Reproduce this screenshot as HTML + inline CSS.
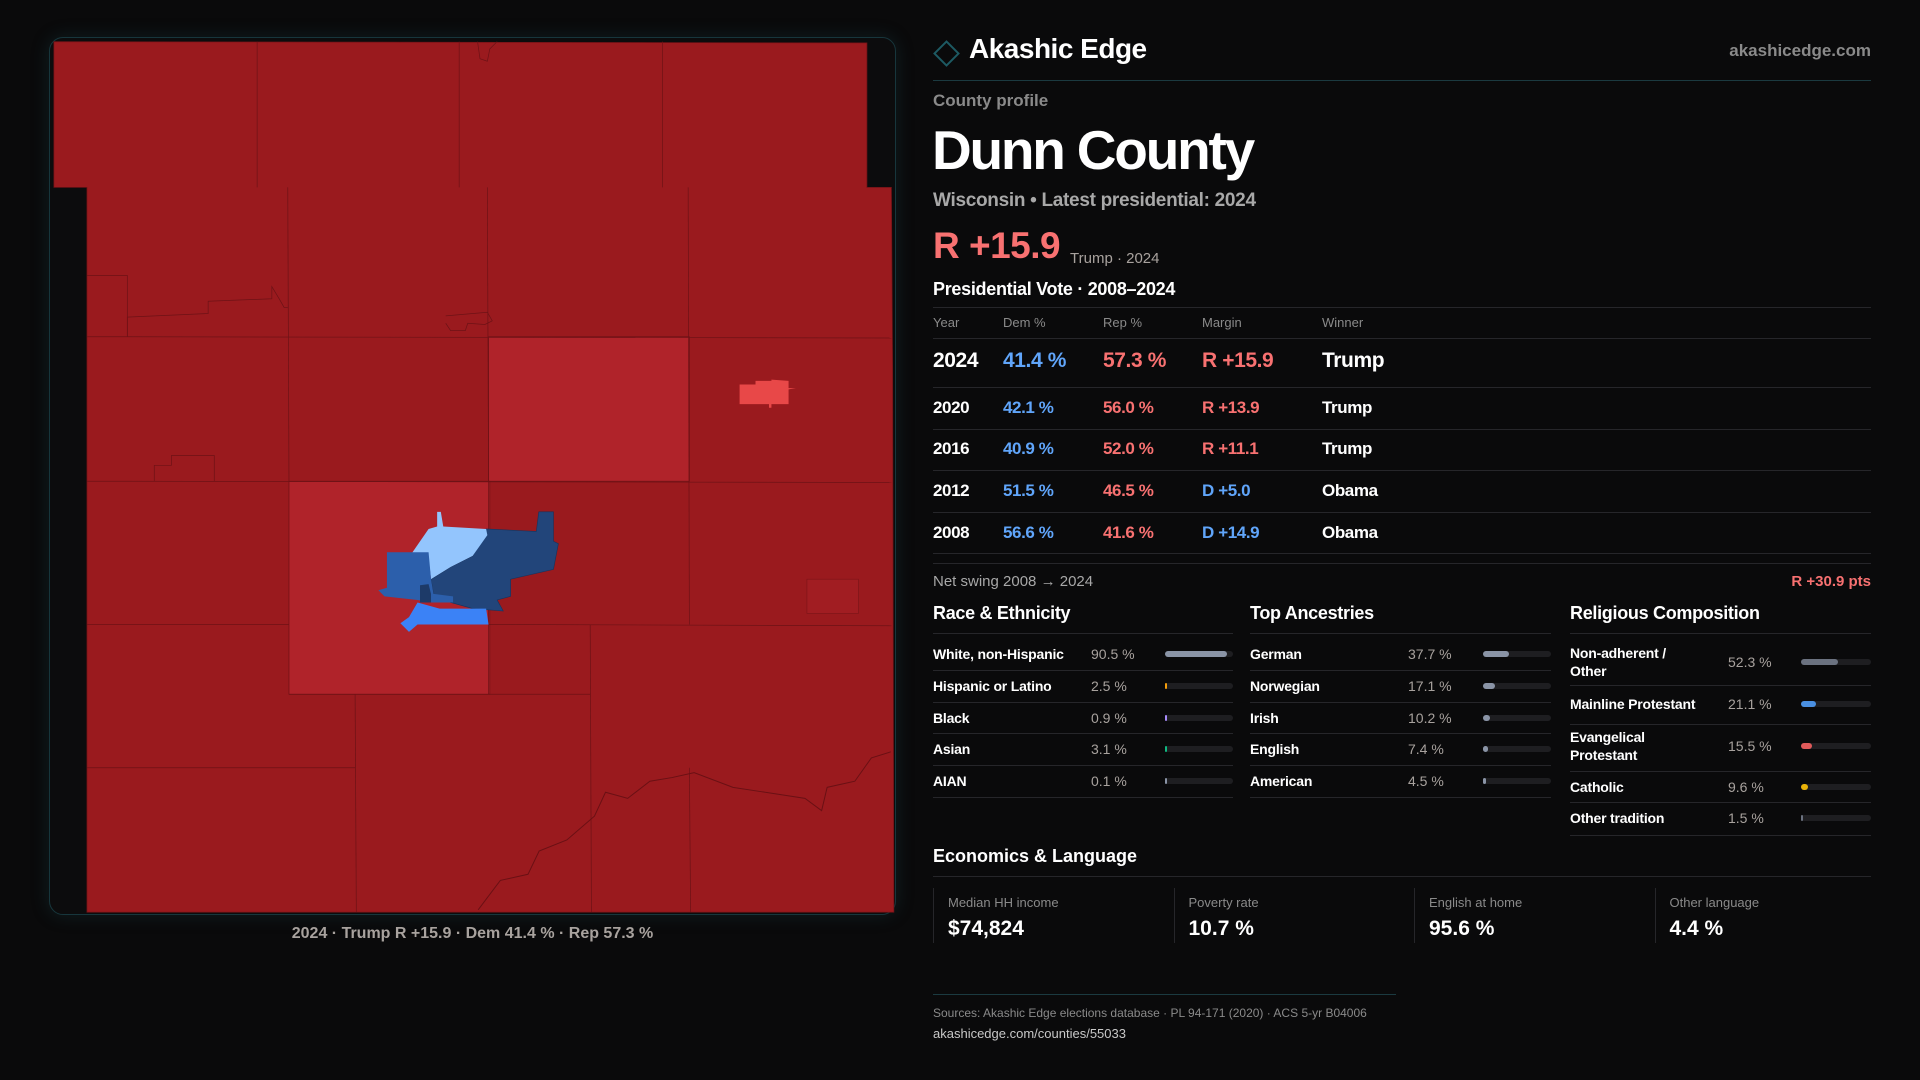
<!DOCTYPE html>
<html><head><meta charset="utf-8">
<style>
*{margin:0;padding:0;box-sizing:border-box}
body{width:1920px;height:1080px;background:#0a0a0b;font-family:"Liberation Sans",sans-serif;color:#fff;position:relative;overflow:hidden}
.a{position:absolute;white-space:nowrap}
.line{position:absolute;height:1px;background:#26262a}
</style></head><body>

<div class="a" style="left:49px;top:37px;width:847px;height:878px;border:1px solid #17363c;border-radius:14px;background:#0c0c0d;box-shadow:0 0 18px rgba(30,90,100,0.25)"></div>
<svg class="a" style="left:0;top:0" width="1920" height="1080" viewBox="0 0 1568 882">
 <g stroke="#6e1216" stroke-width="0.6">
  <polygon fill="#9a1a1e" points="44,34 708,35 708,153 728,153 729,300 730,745 71,745 71,153 44,153"/>
  <rect x="399" y="275" width="164" height="118" fill="#b0232a"/>
  <rect x="236" y="393" width="164" height="174" fill="#b0232a"/>
  <polyline fill="none" points="210,34 210,153"/><polyline fill="none" points="375,34 375,153"/><polyline fill="none" points="541,34 541,153"/>
  <polyline fill="none" points="235,153 236,393"/><polyline fill="none" points="398,153 399,393"/><polyline fill="none" points="562,153 563,510"/>
  <polyline fill="none" points="71,275 728,276"/><polyline fill="none" points="71,393 728,394"/><polyline fill="none" points="71,510 236,510"/>
  <polyline fill="none" points="399,393 399,567"/><polyline fill="none" points="399,510 728,511"/><polyline fill="none" points="236,567 482,567"/>
  <polyline fill="none" points="482,510 483,745"/><polyline fill="none" points="290,567 291,745"/><polyline fill="none" points="71,627 290,627"/>
  <polyline fill="none" points="563,627 564,745"/><polyline fill="none" points="71,225 104,225 104,275"/>
  <polyline fill="none" points="104,275 104,259 170,256 170,246 222,244 222,234 228,244 232,251 235,251"/>
  <polyline fill="none" points="364,258 398,255 402,262 396,265 382,264 380,270 368,270 364,264"/>
  <polyline fill="none" points="126,393 126,380 140,380 140,372 175,372 175,393"/>
  <polyline fill="none" points="390,34 392,48 398,50 400,40 406,34"/>
  <polyline fill="none" points="390.5,743 408.6,719 431.2,714 440.3,695 462.9,686 485.5,666.5 494.5,647 512.6,652 530.7,638 548.8,635 566.9,631 598.6,643 657.4,652 671,662 675.5,643 698.1,638 711.6,619 727.5,614" stroke="#6a1014" stroke-width="0.8"/>
 </g>
 <rect x="659" y="473" width="42" height="28" fill="#a11d22" stroke="#7a1418" stroke-width="0.5"/>
 <polygon fill="#e84848" points="604,314 617,314 617,311 630,311 630,310 644,311 644,317 650,317 644,318 644,330 630,330 630,333 628,333 628,330 604,330"/>
 <polygon fill="#22457a" stroke="#17335c" stroke-width="0.5" points="397,432 438,434 440,418 452,418 452,442 456,444 452,465 417,473 417,487 406,490 411,499 386,497 368,492 354,485 352,473 368,463 386,454"/>
 <polygon fill="#93c5fd" points="332,458 350,432 357,430 357,418 360,418 362,430 397,432 398,437 386,454 368,463 352,473 350,456"/>
 <polygon fill="#2c5fab" points="316,451 350,451 352,473 354,485 370,487 370,492 350,492 341,490 314,487 309,482 316,480"/>
 <polygon fill="#3b82f6" points="341,492 359,497 397,497 399,510 341,510 334,516 327,509 334,504"/>
 <polygon fill="#1d3a68" points="343,478 350,477 352,485 352,492 343,492"/>
</svg>
<div class="a" style="left:0;width:945px;text-align:center;top:925px;font-size:16px;color:#a8a29e;font-weight:bold">2024 · Trump R +15.9 · Dem 41.4 % · Rep 57.3 %</div>

<div class="a" style="left:937px;top:44px;width:19px;height:19px;border:2px solid #1d5a63;transform:rotate(45deg)"></div>
<div class="a" style="left:969px;top:33px;font-size:28px;font-weight:bold;letter-spacing:-0.5px">Akashic Edge</div>
<div class="a" style="right:49px;top:41px;font-size:17px;font-weight:bold;color:#8a8a8a">akashicedge.com</div>
<div class="line" style="left:933px;width:938px;top:80px;background:#1b3a40"></div>
<div class="a" style="left:933px;top:91px;font-size:17px;color:#8a8a8a;font-weight:bold">County profile</div>
<div class="a" style="left:932px;top:118px;font-size:55px;font-weight:bold;letter-spacing:-2.2px">Dunn County</div>
<div class="a" style="left:933px;top:190px;font-size:19px;color:#a8a8a8;font-weight:bold;letter-spacing:-0.3px">Wisconsin • Latest presidential: 2024</div>
<div class="a" style="left:933px;top:225px;font-size:37px;color:#f87171;font-weight:bold;letter-spacing:-0.5px">R +15.9</div>
<div class="a" style="left:1070px;top:250px;font-size:15px;color:#a8a29e">Trump · 2024</div>
<div class="a" style="left:933px;top:279px;font-size:18px;font-weight:bold;letter-spacing:-0.3px">Presidential Vote · 2008–2024</div>
<div id="vt"></div>
<div id="demo"></div>

<div class="a" style="left:933px;top:846px;font-size:18px;font-weight:bold">Economics &amp; Language</div>
<div class="line" style="left:933px;width:938px;top:876px"></div>
<div id="econ"></div>

<div class="line" style="left:933px;width:463px;top:994px;background:#1b3a40"></div>
<div class="a" style="left:933px;top:1006px;font-size:12px;color:#8a8a8a">Sources: Akashic Edge elections database · PL 94-171 (2020) · ACS 5-yr B04006</div>
<div class="a" style="left:933px;top:1026px;font-size:13px;color:#c8c8c8">akashicedge.com/counties/55033</div>

<script>
const years=["2024","2020","2016","2012","2008"];
const demPct=[41.4,42.1,40.9,51.5,56.6];
const repPct=[57.3,56.0,52.0,46.5,41.6];
const margins=["R +15.9","R +13.9","R +11.1","D +5.0","D +14.9"];
const winners=["Trump","Trump","Trump","Obama","Obama"];
const netSwing="R +30.9 pts";
const raceLabels=["White, non-Hispanic","Hispanic or Latino","Black","Asian","AIAN"];
const raceValues=[90.5,2.5,0.9,3.1,0.1];
const ancLabels=["German","Norwegian","Irish","English","American"];
const ancValues=[37.7,17.1,10.2,7.4,4.5];
const relLabels=["Non-adherent /<br>Other","Mainline Protestant","Evangelical<br>Protestant","Catholic","Other tradition"];
const relValues=[52.3,21.1,15.5,9.6,1.5];
const econLabels=["Median HH income","Poverty rate","English at home","Other language"];
const econValues=["$74,824","10.7 %","95.6 %","4.4 %"];

function mk(parent,name,inter,css,html){const d=document.createElement('div');d.className='a';d.style.cssText=css;d.innerHTML=html||'';


parent.appendChild(d);return d;}
function ln(parent,top,left,w,name){const d=document.createElement('div');d.className='line';d.style.cssText=`left:${left}px;width:${w}px;top:${top}px`;


parent.appendChild(d);}

const vt=document.getElementById('vt');
const cols=[933,1003,1103,1202,1322];
["Year","Dem %","Rep %","Margin","Winner"].forEach((h,i)=>mk(vt,'table-header','false',`left:${cols[i]}px;top:315px;font-size:13px;color:#8a8a8a`,h));
ln(vt,307,933,938,'table-top-rule');ln(vt,338,933,938,'table-header-rule');
const rowY=[361,408,449,491,533];
years.forEach((y,i)=>{
 const fs=i==0?21:17, t=rowY[i]-fs*0.58, ls='letter-spacing:-0.4px;';
 const isR=margins[i][0]=="R";
 mk(vt,'year-cell','false',`left:${cols[0]}px;top:${t}px;font-size:${fs}px;font-weight:bold;${ls}`,y);
 mk(vt,'dem-cell','false',`left:${cols[1]}px;top:${t}px;font-size:${fs}px;font-weight:bold;color:#60a5fa;${ls}`,demPct[i].toFixed(1)+" %");
 mk(vt,'rep-cell','false',`left:${cols[2]}px;top:${t}px;font-size:${fs}px;font-weight:bold;color:#f87171;${ls}`,repPct[i].toFixed(1)+" %");
 mk(vt,'margin-cell','false',`left:${cols[3]}px;top:${t}px;font-size:${fs}px;font-weight:bold;color:${isR?'#f87171':'#60a5fa'};${ls}`,margins[i]);
 mk(vt,'winner-cell','false',`left:${cols[4]}px;top:${t}px;font-size:${fs}px;font-weight:bold;${ls}`,winners[i]);
});
[387,429,470,512,553].forEach(y=>ln(vt,y,933,938,'row-rule'));
ln(vt,563,933,938,'swing-rule');
mk(vt,'net-swing-label','false',`left:933px;top:573px;font-size:15px;color:#a8a8a8`,`Net swing ${years[4]} → ${years[0]}`);
mk(vt,'net-swing-value','false',`right:49px;top:573px;font-size:15px;color:#f87171;font-weight:bold`,netSwing);

const demo=document.getElementById('demo');
function section(x,w,title,labels,values,colors,valX,barX,rowsY,rules,name){
 mk(demo,name+'-title','false',`left:${x}px;top:603px;font-size:18px;font-weight:bold;letter-spacing:-0.3px`,title);
 ln(demo,633,x,w,name+'-title-rule');
 labels.forEach((l,i)=>{
  const two=l.includes('<br>');
  mk(demo,name+'-label','false',`left:${x}px;top:${rowsY[i]-(two?18:9)}px;font-size:14px;font-weight:bold;line-height:18px;white-space:nowrap;letter-spacing:-0.2px`,l);
  mk(demo,name+'-value','false',`left:${valX}px;top:${rowsY[i]-9}px;font-size:14px;color:#a8a29e;line-height:18px`,values[i].toFixed(1)+" %");
  const bw=x+w-barX;
  const tr=mk(demo,name+'-bar-track','false',`left:${barX}px;top:${rowsY[i]-3}px;width:${bw}px;height:6px;border-radius:3px;background:#1e1e21`);
  mk(tr,name+'-bar','true',`left:0;top:0;height:6px;border-radius:3px;width:${Math.max(bw*values[i]/100,values[i]>0.05?2:0)}px;background:${colors[i]}`);
  ln(demo,rules[i],x,w,name+'-row-rule');
 });
}
section(933,300,"Race &amp; Ethnicity",raceLabels,raceValues,["#8a94a6","#f59e0b","#a78bfa","#10b981","#8a94a6"],1091,1165,[654,686,718,749,781],[670,702,733,765,797],'race');
section(1250,301,"Top Ancestries",ancLabels,ancValues,["#8a94a6","#8a94a6","#8a94a6","#8a94a6","#8a94a6"],1408,1483,[654,686,718,749,781],[670,702,733,765,797],'ancestry');
section(1570,301,"Religious Composition",relLabels,relValues,["#6b7280","#4a90e2","#e05a5a","#eab308","#6b7280"],1728,1801,[662,704,746,787,818],[685,724,771,802,835],'religion');

const econ=document.getElementById('econ');
econLabels.forEach((l,i)=>{
 const x=933+i*240.5;
 mk(econ,'econ-card','false',`left:${x}px;top:888px;width:1px;height:55px;background:#26262a`);
 mk(econ,'econ-label','false',`left:${x+15}px;top:895px;font-size:13px;color:#8a8a8a`,l);
 mk(econ,'econ-value','false',`left:${x+15}px;top:917px;font-size:21px;font-weight:bold`,econValues[i]);
});
</script>
</body></html>
